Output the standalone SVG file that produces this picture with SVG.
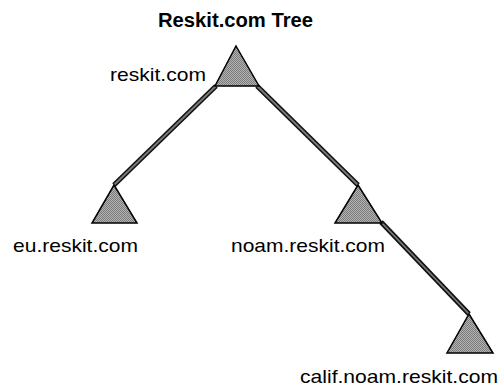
<svg xmlns="http://www.w3.org/2000/svg" width="501" height="386" viewBox="0 0 501 386">
  <defs>
    <pattern id="dither" width="2" height="2" patternUnits="userSpaceOnUse">
      <rect width="2" height="2" fill="#b4b4b4"/>
      <rect width="1" height="1" fill="#7a7a7a"/>
      <rect x="1" y="1" width="1" height="1" fill="#7a7a7a"/>
    </pattern>
  </defs>
  <style>
    .tri { fill: url(#dither); stroke: #000; stroke-width: 1.5; stroke-linejoin: miter; }
    .edge-out { fill: none; stroke: #111; stroke-width: 5; stroke-linecap: butt; }
    .edge-in { fill: none; stroke: #7a7a7a; stroke-width: 1.8; stroke-linecap: butt; }
    .label { font-family: "Liberation Sans", Arial, sans-serif; font-size: 19px; fill: #000; }
    .title { font-family: "Liberation Sans", Arial, sans-serif; font-size: 20px; font-weight: bold; fill: #000; }
  </style>
  <rect width="501" height="386" fill="#fff"/>

  <text class="title" x="158" y="27" textLength="155" lengthAdjust="spacingAndGlyphs">Reskit.com Tree</text>

  <!-- connectors -->
  <g id="connectors">
    <path class="edge-out" d="M216,86 L114,185"/>
    <path class="edge-out" d="M257,86 L358,185"/>
    <path class="edge-out" d="M381,222 L469,314"/>
    <path class="edge-in" d="M216,86 L114,185"/>
    <path class="edge-in" d="M257,86 L358,185"/>
    <path class="edge-in" d="M381,222 L469,314"/>
  </g>

  <g id="reskit">
    <polygon class="tri" points="236,46 259,86 215,86"/>
    <text class="label" x="110" y="81" textLength="96" lengthAdjust="spacingAndGlyphs">reskit.com</text>
  </g>

  <g id="eu">
    <polygon class="tri" points="114,185 137,223 92,223"/>
    <text class="label" x="13" y="252" textLength="125" lengthAdjust="spacingAndGlyphs">eu.reskit.com</text>
  </g>

  <g id="noam">
    <polygon class="tri" points="358,185 382,223 335,223"/>
    <text class="label" x="231" y="252" textLength="154" lengthAdjust="spacingAndGlyphs">noam.reskit.com</text>
  </g>

  <g id="calif">
    <polygon class="tri" points="469,314 493,353 447,353"/>
    <text class="label" x="300" y="383" textLength="198" lengthAdjust="spacingAndGlyphs">calif.noam.reskit.com</text>
  </g>
</svg>
